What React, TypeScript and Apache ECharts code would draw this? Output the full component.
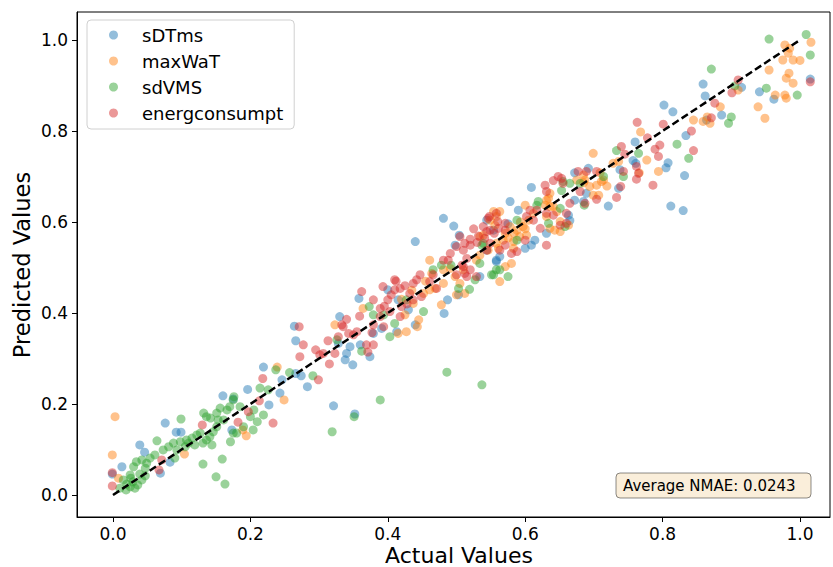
import React, { useEffect, useRef } from 'react';
import * as echarts from 'echarts';

const seriesNames = ['sDTms', 'maxWaT', 'sdVMS', 'energconsumpt'];
const seriesColors = [
  'rgba(31,119,180,0.6)',
  'rgba(255,127,14,0.6)',
  'rgba(44,160,44,0.6)',
  'rgba(214,39,40,0.6)',
];
const xTicks = [0, 0.2, 0.4, 0.6, 0.8, 1.0];
const yTicks = [0, 0.2, 0.4, 0.6, 0.8, 1.0];
const identityLine = [[0, 0], [1, 1]];
const nmaeText = 'Average NMAE: 0.0243';

const sDTms = [
  [-0.001, 0.046], [0.013, 0.062], [0.039, 0.11], [0.046, 0.094], [0.076, 0.158], [0.092, 0.138], [0.099, 0.138],
  [0.083, 0.072], [0.069, 0.048], [0.16, 0.218], [0.173, 0.143], [0.196, 0.232], [0.175, 0.211],
  [0.219, 0.281], [0.266, 0.267], [0.246, 0.253], [0.243, 0.224], [0.227, 0.198], [0.283, 0.238], [0.321, 0.196],
  [0.264, 0.371], [0.266, 0.339], [0.33, 0.392], [0.328, 0.333], [0.34, 0.311], [0.338, 0.297], [0.349, 0.286],
  [0.374, 0.304], [0.358, 0.432], [0.352, 0.178], [0.274, 0.262],
  [0.481, 0.608], [0.496, 0.591], [0.44, 0.557], [0.504, 0.571], [0.487, 0.429], [0.482, 0.399], [0.4, 0.451],
  [0.44, 0.374], [0.413, 0.359], [0.345, 0.326], [0.36, 0.33], [0.391, 0.366], [0.379, 0.355], [0.558, 0.516],
  [0.498, 0.549], [0.415, 0.429], [0.43, 0.407], [0.503, 0.44], [0.534, 0.48], [0.544, 0.538],
  [0.609, 0.676], [0.672, 0.708], [0.689, 0.663], [0.672, 0.648], [0.685, 0.645], [0.721, 0.635], [0.578, 0.645],
  [0.59, 0.626], [0.663, 0.615], [0.665, 0.603], [0.631, 0.575], [0.614, 0.56], [0.609, 0.549], [0.6, 0.542],
  [0.563, 0.524], [0.558, 0.513], [0.575, 0.596], [0.544, 0.604], [0.554, 0.582],
  [0.859, 0.903], [0.862, 0.877], [0.886, 0.835], [0.864, 0.824], [0.802, 0.857], [0.815, 0.842], [0.76, 0.776],
  [0.834, 0.79], [0.808, 0.73], [0.805, 0.719], [0.832, 0.702], [0.812, 0.635], [0.83, 0.625], [0.757, 0.735],
  [0.761, 0.729], [0.738, 0.715], [0.692, 0.718], [0.736, 0.674], [1.015, 0.914], [0.962, 0.87], [0.941, 0.886],
  [0.915, 0.896],
];

const maxWaT = [
  [0.003, 0.172], [-0.001, 0.088], [0.008, 0.037], [0.104, 0.09], [0.189, 0.143], [0.194, 0.13],
  [0.239, 0.281], [0.249, 0.209], [0.323, 0.374], [0.364, 0.41], [0.445, 0.385], [0.443, 0.37], [0.427, 0.359],
  [0.415, 0.355], [0.464, 0.487], [0.452, 0.443], [0.469, 0.454], [0.481, 0.465], [0.437, 0.421], [0.425, 0.396],
  [0.478, 0.418], [0.498, 0.48], [0.51, 0.495], [0.534, 0.527], [0.529, 0.516], [0.505, 0.465], [0.461, 0.516],
  [0.558, 0.553], [0.568, 0.56], [0.563, 0.469], [0.481, 0.495], [0.491, 0.498], [0.461, 0.451], [0.5, 0.44],
  [0.512, 0.443], [0.435, 0.45], [0.455, 0.47], [0.42, 0.43],
  [0.578, 0.59], [0.588, 0.582], [0.597, 0.59], [0.592, 0.568], [0.602, 0.571], [0.583, 0.557], [0.571, 0.575],
  [0.605, 0.604], [0.612, 0.619], [0.629, 0.637], [0.634, 0.652], [0.636, 0.634], [0.646, 0.623], [0.631, 0.612],
  [0.563, 0.623], [0.549, 0.604], [0.556, 0.593], [0.539, 0.571], [0.561, 0.542], [0.546, 0.538], [0.651, 0.579],
  [0.663, 0.593], [0.675, 0.692], [0.685, 0.703], [0.593, 0.6], [0.584, 0.575], [0.6, 0.585], [0.575, 0.565],
  [0.699, 0.751], [0.728, 0.729], [0.709, 0.708], [0.711, 0.689], [0.704, 0.681], [0.719, 0.679], [0.685, 0.686],
  [0.699, 0.659], [0.636, 0.663], [0.631, 0.648], [0.641, 0.634], [0.6, 0.637], [0.651, 0.601], [0.636, 0.586],
  [0.643, 0.582], [0.558, 0.612], [0.554, 0.623], [0.534, 0.568], [0.571, 0.502], [0.58, 0.509], [0.583, 0.542],
  [0.736, 0.733], [0.768, 0.798], [0.777, 0.736], [0.766, 0.708], [0.794, 0.711], [0.714, 0.692], [0.845, 0.824],
  [0.859, 0.821], [0.865, 0.831], [0.869, 0.817], [0.884, 0.853], [0.91, 0.89], [0.687, 0.692], [0.694, 0.678],
  [0.707, 0.659],
  [0.978, 0.989], [0.985, 0.982], [0.983, 0.971], [0.99, 0.956], [1.0, 0.955], [1.016, 0.995], [0.975, 0.956],
  [0.955, 0.934], [0.984, 0.927], [0.98, 0.916], [0.99, 0.905], [0.964, 0.879], [0.978, 0.879], [0.98, 0.872],
  [0.939, 0.853], [0.949, 0.828],
];

const sdVMS = [
  [0.015, 0.033], [0.02, 0.024], [0.025, 0.018], [0.029, 0.029], [0.019, 0.011], [0.032, 0.015], [0.036, 0.022],
  [0.026, 0.037], [0.01, 0.015], [0.042, 0.033], [0.047, 0.042], [0.039, 0.046],
  [0.034, 0.073], [0.042, 0.077], [0.049, 0.07], [0.054, 0.081], [0.061, 0.088], [0.064, 0.119], [0.073, 0.099],
  [0.081, 0.106], [0.088, 0.114], [0.093, 0.099], [0.098, 0.117], [0.099, 0.167], [0.105, 0.106], [0.11, 0.114],
  [0.115, 0.125], [0.119, 0.11], [0.122, 0.132], [0.127, 0.136], [0.131, 0.114], [0.136, 0.121], [0.141, 0.128],
  [0.144, 0.11], [0.146, 0.139], [0.151, 0.15], [0.153, 0.165], [0.131, 0.068], [0.15, 0.04], [0.107, 0.121],
  [0.09, 0.081], [0.047, 0.059], [0.03, 0.062], [0.025, 0.044],
  [0.159, 0.079], [0.163, 0.024], [0.132, 0.18], [0.142, 0.169], [0.151, 0.18], [0.161, 0.165], [0.166, 0.187],
  [0.176, 0.216], [0.185, 0.194], [0.2, 0.172], [0.21, 0.161], [0.19, 0.15], [0.171, 0.117], [0.18, 0.136],
  [0.205, 0.187],
  [0.214, 0.235], [0.226, 0.231], [0.237, 0.275], [0.257, 0.269], [0.291, 0.262], [0.219, 0.176], [0.351, 0.172],
  [0.319, 0.139], [0.175, 0.209], [0.156, 0.191], [0.17, 0.194], [0.136, 0.172], [0.175, 0.136], [0.204, 0.143],
  [0.373, 0.414], [0.362, 0.316], [0.389, 0.209], [0.486, 0.27], [0.537, 0.242],
  [0.478, 0.505], [0.534, 0.509], [0.554, 0.484], [0.558, 0.495], [0.527, 0.473], [0.503, 0.454], [0.519, 0.452],
  [0.452, 0.403], [0.427, 0.429], [0.403, 0.348], [0.379, 0.396], [0.394, 0.396], [0.326, 0.341], [0.466, 0.495],
  [0.539, 0.553], [0.492, 0.505], [0.41, 0.377],
  [0.665, 0.685], [0.653, 0.669], [0.619, 0.645], [0.743, 0.7], [0.714, 0.7], [0.733, 0.757], [0.658, 0.59],
  [0.588, 0.604], [0.588, 0.56], [0.537, 0.549], [0.551, 0.484], [0.575, 0.48], [0.563, 0.495], [0.617, 0.637],
  [0.651, 0.63], [0.634, 0.597], [0.68, 0.685], [0.655, 0.689], [0.686, 0.637],
  [0.765, 0.751], [0.821, 0.771], [0.838, 0.74], [0.871, 0.936], [0.905, 0.899], [0.9, 0.831], [0.896, 0.817],
  [0.951, 0.894], [0.996, 0.879], [1.015, 0.967], [1.009, 1.012], [0.955, 1.002],
];

const energconsumpt = [
  [-0.001, 0.049], [-0.001, 0.02], [0.067, 0.055], [0.13, 0.154], [0.182, 0.16], [0.197, 0.183], [0.071, 0.077],
  [0.218, 0.256], [0.213, 0.207], [0.233, 0.158], [0.299, 0.253], [0.301, 0.308], [0.272, 0.304], [0.271, 0.37],
  [0.277, 0.33], [0.295, 0.319], [0.313, 0.339], [0.306, 0.311], [0.323, 0.311], [0.333, 0.374], [0.34, 0.386],
  [0.315, 0.288], [0.369, 0.33], [0.362, 0.447], [0.379, 0.429], [0.371, 0.314], [0.328, 0.348], [0.343, 0.355],
  [0.35, 0.352], [0.359, 0.393], [0.377, 0.357],
  [0.41, 0.473], [0.393, 0.458], [0.389, 0.41], [0.4, 0.429], [0.418, 0.454], [0.432, 0.443], [0.437, 0.465],
  [0.447, 0.484], [0.461, 0.469], [0.466, 0.484], [0.481, 0.516], [0.488, 0.516], [0.491, 0.531], [0.5, 0.546],
  [0.51, 0.538], [0.52, 0.562], [0.532, 0.569], [0.544, 0.579], [0.555, 0.575], [0.548, 0.612], [0.558, 0.619],
  [0.56, 0.601], [0.571, 0.597], [0.51, 0.502], [0.52, 0.495], [0.515, 0.48], [0.529, 0.48], [0.5, 0.484],
  [0.471, 0.454], [0.379, 0.374], [0.389, 0.392], [0.394, 0.37], [0.335, 0.37], [0.355, 0.359], [0.379, 0.33],
  [0.41, 0.451], [0.42, 0.414], [0.437, 0.429], [0.449, 0.436], [0.52, 0.549], [0.515, 0.52], [0.508, 0.505],
  [0.512, 0.487], [0.442, 0.473], [0.403, 0.403], [0.418, 0.392], [0.405, 0.44], [0.425, 0.46], [0.428, 0.42],
  [0.412, 0.47], [0.395, 0.415], [0.53, 0.555], [0.525, 0.585],
  [0.74, 0.766], [0.745, 0.749], [0.704, 0.711], [0.689, 0.711], [0.677, 0.711], [0.743, 0.711], [0.653, 0.696],
  [0.655, 0.685], [0.641, 0.691], [0.629, 0.681], [0.631, 0.667], [0.733, 0.654], [0.704, 0.65], [0.607, 0.626],
  [0.602, 0.612], [0.612, 0.604], [0.617, 0.626], [0.631, 0.619], [0.641, 0.615], [0.651, 0.593], [0.66, 0.597],
  [0.622, 0.586], [0.588, 0.535], [0.58, 0.531], [0.571, 0.582], [0.561, 0.586], [0.549, 0.582], [0.539, 0.59],
  [0.546, 0.608], [0.541, 0.564], [0.549, 0.553], [0.505, 0.568], [0.512, 0.553], [0.544, 0.538], [0.563, 0.538],
  [0.571, 0.549], [0.6, 0.56], [0.648, 0.7], [0.631, 0.549], [0.66, 0.619], [0.665, 0.641], [0.68, 0.667],
  [0.687, 0.641],
  [0.876, 0.861], [0.871, 0.829], [0.901, 0.884], [0.91, 0.912], [0.801, 0.815], [0.763, 0.819], [0.778, 0.785],
  [0.796, 0.769], [0.789, 0.76], [0.794, 0.744], [0.842, 0.8], [0.845, 0.757], [0.786, 0.681], [0.762, 0.722],
  [0.765, 0.707], [0.762, 0.694], [0.739, 0.678], [1.015, 0.908],
];

const seriesData = [sDTms, maxWaT, sdVMS, energconsumpt];
const FONT = 'DejaVu Sans';

export default function App() {
  const ref = useRef<HTMLDivElement>(null);
  useEffect(() => {
    const chart = echarts.init(ref.current as HTMLDivElement, null, { renderer: 'svg' });
    const scatterSeries = seriesNames.map((name, i) => ({
      type: 'scatter',
      name,
      data: seriesData[i],
      symbol: 'circle',
      symbolSize: 9,
      itemStyle: { color: seriesColors[i] },
      z: 2 + i,
      silent: true,
    }));
    chart.setOption({
      animation: false,
      backgroundColor: '#fff',
      grid: {
        left: 77,
        top: 12,
        width: 753,
        height: 505,
        show: true,
        borderColor: '#000',
        borderWidth: 1,
        backgroundColor: 'transparent',
        containLabel: false,
        outerBoundsMode: 'none',
      },
      xAxis: {
        type: 'value',
        min: -0.0524,
        max: 1.0437,
        splitLine: { show: false },
        axisLine: { show: true, onZero: false, lineStyle: { color: '#000', width: 1 } },
        axisTick: { show: true, inside: false, length: 5, lineStyle: { color: '#000' }, customValues: xTicks },
        axisLabel: {
          customValues: xTicks,
          formatter: (v: number) => v.toFixed(1),
          fontSize: 17,
          color: '#000',
          fontFamily: FONT,
          margin: 8,
        },
      },
      yAxis: {
        type: 'value',
        min: -0.0484,
        max: 1.0615,
        splitLine: { show: false },
        axisLine: { show: true, onZero: false, lineStyle: { color: '#000', width: 1 } },
        axisTick: { show: true, inside: false, length: 5, lineStyle: { color: '#000' }, customValues: yTicks },
        axisLabel: {
          customValues: yTicks,
          formatter: (v: number) => v.toFixed(1),
          fontSize: 17,
          color: '#000',
          fontFamily: FONT,
          margin: 9,
        },
      },
      legend: {
        orient: 'vertical',
        left: 87,
        top: 20,
        data: seriesNames,
        icon: 'circle',
        itemWidth: 9,
        itemHeight: 9,
        itemGap: 8,
        padding: [6, 11, 7, 22],
        backgroundColor: 'rgba(255,255,255,0.8)',
        borderColor: '#d0d0d0',
        borderWidth: 1,
        borderRadius: 4,
        selectedMode: false,
        textStyle: { fontSize: 18, fontFamily: FONT, color: '#000', padding: [0, 0, 0, 19], lineHeight: 18 },
      },
      series: [
        ...scatterSeries,
        {
          type: 'line',
          name: 'identity',
          data: identityLine,
          symbol: 'none',
          silent: true,
          z: 10,
          lineStyle: { color: '#000', width: 2.5, type: [7.5, 3.5] },
        },
      ],
      graphic: [
        {
          type: 'text',
          x: 459,
          y: 555.5,
          style: { text: 'Actual Values', fontSize: 22, fontFamily: FONT, fill: '#000', align: 'center', verticalAlign: 'middle' },
        },
        {
          type: 'text',
          x: 22,
          y: 265,
          rotation: Math.PI / 2,
          style: { text: 'Predicted Values', fontSize: 22.5, fontFamily: FONT, fill: '#000', align: 'center', verticalAlign: 'middle' },
        },
        {
          type: 'rect',
          shape: { x: 616, y: 473, width: 195, height: 25, r: 4 },
          style: { fill: '#faeeda', stroke: 'rgba(0,0,0,0.45)', lineWidth: 1 },
          z: 20,
        },
        {
          type: 'text',
          x: 623,
          y: 486,
          z: 21,
          style: { text: nmaeText, fontSize: 15, fontFamily: FONT, fill: '#000', align: 'left', verticalAlign: 'middle' },
        },
      ],
    });
    return () => chart.dispose();
  }, []);
  return <div ref={ref} style={{ position: 'fixed', left: 0, top: 0, width: 833, height: 567 }} />;
}
